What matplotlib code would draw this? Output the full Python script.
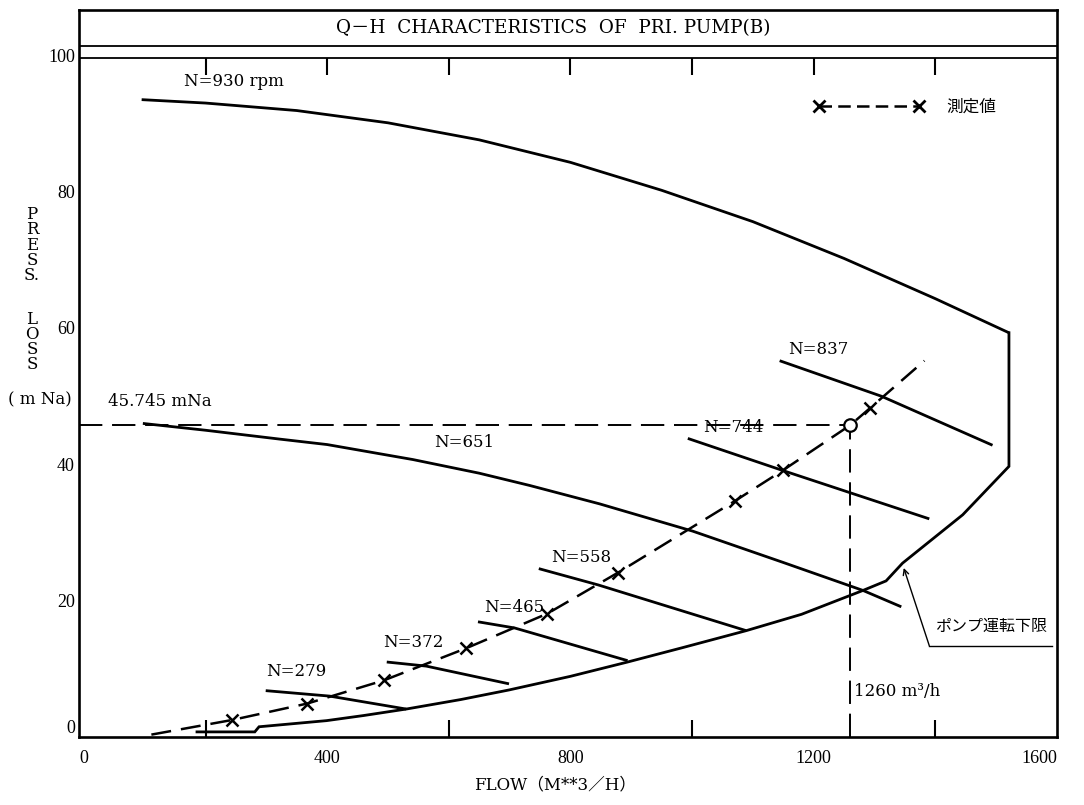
import matplotlib
matplotlib.use("Agg")
import matplotlib.pyplot as plt
from matplotlib.lines import Line2D

plt.rcParams['font.family'] = ['DejaVu Serif', 'Noto Sans CJK JP']

# Pump Q-H curves at each speed: flow (m3/h) and head (mNa)
n930_q = [95, 200, 350, 500, 650, 800, 950, 1100, 1250, 1400, 1521]
n930_h = [93.5, 93.0, 91.9, 90.1, 87.6, 84.3, 80.2, 75.6, 70.2, 64.3, 59.3]

n837_q = [1144, 1311, 1494]
n837_h = [55.2, 50.0, 42.8]

n744_q = [993, 1149, 1390]
n744_h = [43.8, 39.1, 32.0]

n651_q = [97, 200, 322, 400, 541, 650, 733, 848, 1001, 1150, 1281, 1344]
n651_h = [46.0, 45.0, 43.7, 42.9, 40.7, 38.7, 36.9, 34.2, 30.2, 25.6, 21.5, 19.1]

n558_q = [748, 846, 1089]
n558_h = [24.7, 22.3, 15.6]

n465_q = [648, 708, 894]
n465_h = [16.9, 16.0, 11.2]

n372_q = [498, 563, 699]
n372_h = [11.0, 10.4, 7.8]

n279_q = [299, 404, 530]
n279_h = [6.8, 6.0, 4.1]

# Lower operating limit of the pump
limit_q = [186, 281, 288, 399, 460, 530, 620, 699, 800, 894, 984, 1089, 1180, 1281,
           1319, 1346, 1445, 1521, 1521]
limit_h = [0.75, 0.75, 1.5, 2.4, 3.15, 4.1, 5.5, 6.9, 8.9, 11.0, 13.1, 15.6, 18.0, 21.5,
           22.9, 25.5, 32.6, 39.7, 59.3]

# System curve and measured points
sys_q = [111, 244, 367, 493, 628, 762, 878, 1070, 1149, 1260, 1292, 1382]
sys_h = [0.35, 2.5, 4.9, 8.3, 13.0, 18.1, 24.1, 34.6, 39.1, 45.745, 48.2, 55.2]
meas_q = [244, 367, 493, 628, 762, 878, 1070, 1149, 1292]
meas_h = [2.5, 4.9, 8.3, 13.0, 18.1, 24.1, 34.6, 39.1, 48.2]

# Operating point
duty_q = 1260
duty_h = 45.745

speed_labels = ["N=930 rpm", "N=837", "N=744", "N=651", "N=558", "N=465", "N=372", "N=279"]
label_q = [247, 1208, 1068, 626, 817, 708, 541, 349]
label_h = [96.1, 56.8, 45.4, 43.2, 26.3, 19.0, 13.8, 9.6]

x_ticks = [0, 400, 800, 1200, 1600]
x_minor = [200, 400, 600, 800, 1000, 1200, 1400]
y_ticks = [0, 20, 40, 60, 80, 100]
y_minor = [20, 40, 60, 80]

XMIN, XMAX = -8, 1600
YMIN, YMAX = 0, 106.65

W, H = 1084, 805
fig = plt.figure(figsize=(W / 100, H / 100), dpi=100)
ax = fig.add_axes([79 / W, 1 - 737 / H, (1057 - 79) / W, (737 - 10) / H])
ax.set_xlim(XMIN, XMAX)
ax.set_ylim(YMIN, YMAX)

for s in ax.spines.values():
    s.set_linewidth(1.9)

tick_font = dict(family='Liberation Serif', size=13)
ax.set_xticks(x_ticks)
ax.set_xticklabels([str(v) for v in x_ticks], fontdict=tick_font)
ax.get_xticklabels()[-1].set_ha('right')
ax.set_yticks(y_ticks)
ax.set_yticklabels([str(v) for v in y_ticks], fontdict=tick_font)
ax.get_yticklabels()[0].set_va('bottom')
ax.set_xticks(x_minor, minor=True)
ax.set_yticks(y_minor, minor=True)
ax.tick_params(which='major', length=0, pad=9, axis='x')
ax.tick_params(which='major', length=0, pad=3, axis='y')
ax.tick_params(which='minor', direction='in', length=12, width=1.5,
               bottom=True, left=True, right=True, top=False)

# Title band
band_low, band_high = 99.6, 101.4
ax.axhline(band_low, color='k', lw=1.3)
ax.axhline(band_high, color='k', lw=1.3)
ax.text(772, 104.0, "Q－H  CHARACTERISTICS  OF  PRI. PUMP(B)",
        ha='center', va='center', fontsize=13.2)
ax.vlines(x_minor, band_low - 2.5, band_low, color='k', lw=1.5)

lw = 2.0
for q, h in [(n930_q, n930_h), (n837_q, n837_h), (n744_q, n744_h), (n651_q, n651_h),
             (n558_q, n558_h), (n465_q, n465_h), (n372_q, n372_h), (n279_q, n279_h)]:
    ax.plot(q, h, color='k', lw=lw, solid_capstyle='butt')

ax.plot(limit_q, limit_h, color='k', lw=lw, solid_joinstyle='miter')

ax.plot(sys_q, sys_h, color='k', lw=1.8, linestyle=(0, (8, 4)))
ax.plot(meas_q, meas_h, linestyle='none', marker='x', color='k', ms=8, mew=1.8)

# Operating point with guide lines
ax.plot([XMIN, duty_q], [duty_h, duty_h], color='k', lw=1.4, linestyle=(0, (12, 5)))
ax.plot([duty_q, duty_q], [0, duty_h], color='k', lw=1.4, linestyle=(0, (12, 5)))
ax.plot([duty_q], [duty_h], marker='o', ms=9, mfc='white', mec='k', mew=1.6)

for txt, q, h in zip(speed_labels, label_q, label_h):
    ax.text(q, h, txt, ha='center', va='center', fontsize=12)

ax.text(39, 49.2, "45.745 mNa", ha='left', va='center', fontsize=12)
ax.text(1267, 6.7, "1260 m³/h", ha='left', va='center', fontsize=12)

# Lower limit annotation
ax.text(1400, 16.2, "ポンプ運転下限", ha='left', va='center', fontsize=11.5,
        family='Noto Sans CJK JP')
ax.plot([1390, 1592], [13.4, 13.4], color='k', lw=1.0)
ax.annotate('', xy=(1348, 24.8), xytext=(1390, 13.4),
            arrowprops=dict(arrowstyle='->', lw=1.0, color='k', shrinkA=0, shrinkB=0))

# Legend for measured values
handle = Line2D([], [], color='k', lw=1.8, linestyle=(0, (5, 2.5)), marker='x', ms=9, mew=2)
leg = ax.legend([handle], ['測定値'], numpoints=2, frameon=False,
                loc='center left', bbox_to_anchor=(1201, 92.4),
                bbox_transform=ax.transData, borderpad=0, borderaxespad=0,
                handlelength=6.6, handletextpad=1.3,
                prop=dict(family='Noto Sans CJK JP', size=12))

# Axis titles
fig.text(32 / W, 1 - 245 / H, "P\nR\nE\nS\nS.", ha='center', va='center',
         fontsize=12, linespacing=0.85)
fig.text(32 / W, 1 - 342 / H, "L\nO\nS\nS", ha='center', va='center',
         fontsize=12, linespacing=0.85)
fig.text(40 / W, 1 - 400 / H, "( m Na)", ha='center', va='center', fontsize=12)
fig.text(555 / W, 1 - 785 / H, "FLOW（M**3／H）", ha='center', va='center', fontsize=12)

fig.savefig("out.png", dpi=100, facecolor='white')
